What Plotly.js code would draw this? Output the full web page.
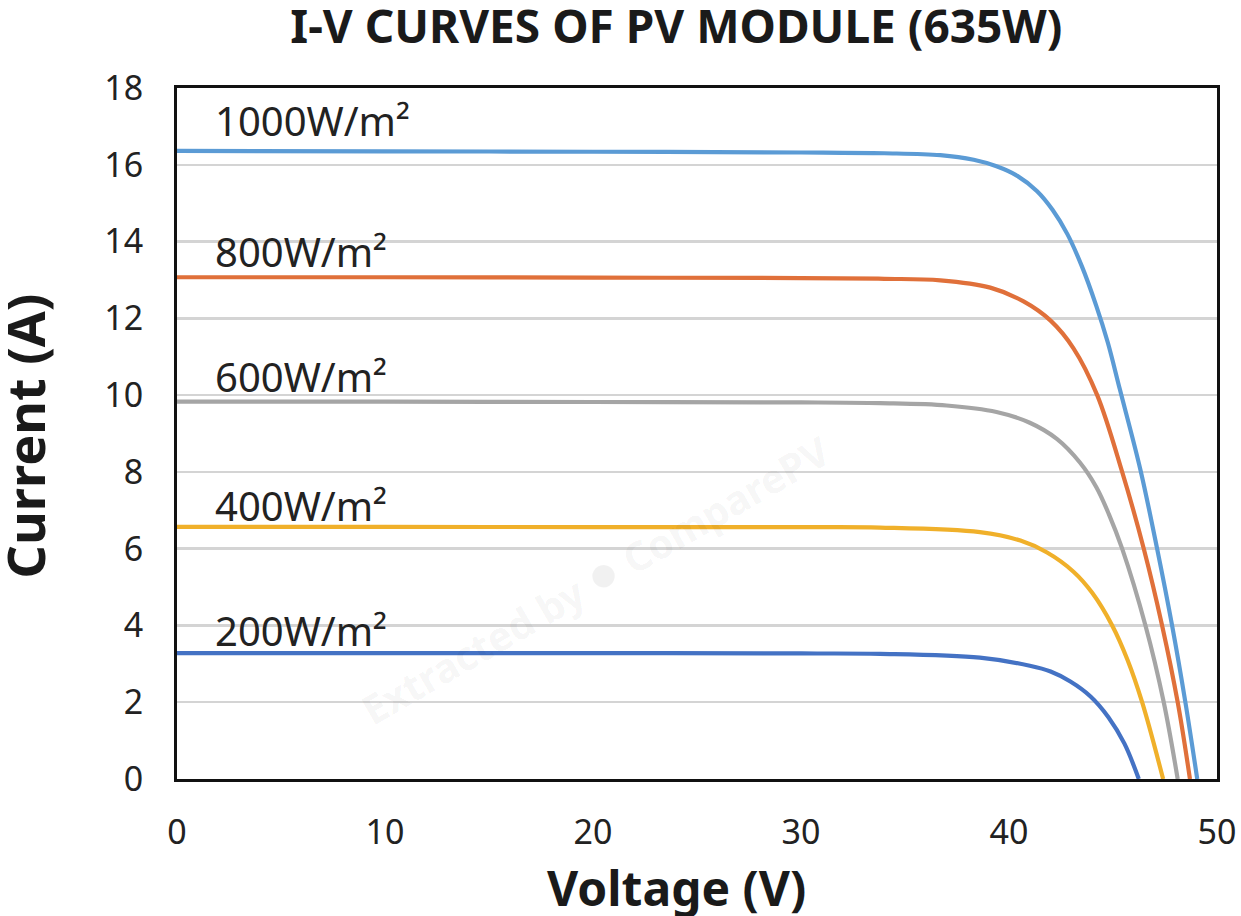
<!DOCTYPE html>
<html>
<head>
<meta charset="utf-8">
<script src="https://cdn.plot.ly/plotly-3.0.1.min.js"></script>
<style>
  html, body { margin: 0; padding: 0; background: #fff; }
  #chart { width: 1241px; height: 916px; }
</style>
</head>
<body>
<div id="chart"></div>
<script>
// I-V curves, one pair of arrays per irradiance level
const irradianceLabels = ['1000W/m²', '800W/m²', '600W/m²', '400W/m²', '200W/m²'];

const voltage1000 = [0, 10, 20, 30, 34, 36.7, 38.3, 39.4, 40.4, 41.35, 42.1, 42.8, 43.5, 44.2, 44.75, 45.33, 46.32, 47.12, 47.84, 48.48, 49.05];
const current1000 = [16.36, 16.35, 16.34, 16.32, 16.3, 16.25, 16.13, 15.96, 15.71, 15.31, 14.82, 14.2, 13.36, 12.32, 11.37, 10.15, 8.05, 6.0, 4.0, 2.0, 0];

const voltage800 = [0, 10, 20, 30, 34, 36.7, 39.1, 40.7, 42.0, 43.1, 44.24, 45.44, 46.48, 47.36, 48.11, 48.7];
const current800 = [13.07, 13.07, 13.06, 13.05, 13.03, 12.99, 12.8, 12.44, 11.94, 11.22, 10.0, 8.0, 6.0, 4.0, 2.0, 0];

const voltage600 = [0, 10, 20, 30, 33.8, 37.0, 39.4, 41.0, 42.3, 43.4, 44.2, 44.8, 45.44, 46.56, 47.44, 48.11];
const current600 = [9.83, 9.83, 9.82, 9.81, 9.79, 9.73, 9.56, 9.28, 8.86, 8.25, 7.6, 6.9, 6.0, 4.0, 2.0, 0];

const voltage400 = [0, 10, 20, 30, 33.8, 38.6, 40.55, 41.83, 43.1, 44.0, 44.96, 45.7, 46.4, 47.41];
const current400 = [6.57, 6.57, 6.56, 6.56, 6.55, 6.43, 6.21, 5.9, 5.4, 4.85, 4.0, 3.1, 2.0, 0];

const voltage200 = [0, 10, 20, 30, 33.8, 38.6, 41.0, 42.0, 42.95, 43.92, 44.78, 45.55, 46.24];
const current200 = [3.28, 3.28, 3.28, 3.27, 3.26, 3.16, 2.95, 2.8, 2.54, 2.15, 1.61, 0.92, 0];

const voltageTicks = [0, 10, 20, 30, 40, 50];
const currentTicks = [0, 2, 4, 6, 8, 10, 12, 14, 16, 18];

// styling
const lineColors = ['#5b9bd5', '#e0703a', '#a5a5a5', '#f0b02a', '#4472c4'];
const labelLift = [0.8, 0.68, 0.66, 0.55, 0.6];

const series = [
  [voltage1000, current1000],
  [voltage800, current800],
  [voltage600, current600],
  [voltage400, current400],
  [voltage200, current200]
];

const traces = series.map(([v, i], k) => ({
  x: v,
  y: i,
  type: 'scatter',
  mode: 'lines',
  name: irradianceLabels[k],
  line: {color: lineColors[k], width: 4.2, shape: 'spline', smoothing: 1},
  hoverinfo: 'x+y+name'
}));

const labelFont = {family: 'Noto Sans, sans-serif', size: 40, color: '#222'};
const axisTitleFont = {family: 'Noto Sans, sans-serif', size: 48, color: '#1a1a1a', weight: 'bold'};

const annotations = series.map(([v, i], k) => ({
  x: 1.75, y: i[0] + labelLift[k], xref: 'x', yref: 'y',
  text: irradianceLabels[k], showarrow: false,
  xanchor: 'left', yanchor: 'middle', font: labelFont
}));

annotations.push(
  {
    x: (676 - 177) / 1040, y: -0.1565, xref: 'paper', yref: 'paper',
    text: 'Voltage (V)', showarrow: false, xanchor: 'center', yanchor: 'middle',
    font: axisTitleFont
  },
  {
    x: -0.147, y: 0.496, xref: 'paper', yref: 'paper',
    text: 'Current (A)', showarrow: false, textangle: -90,
    xanchor: 'center', yanchor: 'middle',
    font: Object.assign({}, axisTitleFont, {size: 52})
  },
  {
    x: 20.0, y: 5.3, xref: 'x', yref: 'y',
    text: 'Extracted by <span style="font-size:52px">●</span> ComparePV', showarrow: false, textangle: -30,
    font: {family: 'Noto Sans, sans-serif', size: 40, color: 'rgba(0,0,0,0.055)', weight: 'bold'}
  }
);

const layout = {
  width: 1241,
  height: 916,
  margin: {l: 177, r: 24, t: 88, b: 137},
  paper_bgcolor: '#fff',
  plot_bgcolor: '#fff',
  showlegend: false,
  title: {
    text: 'I-V CURVES OF PV MODULE (635W)',
    x: 0.545, xref: 'container', xanchor: 'center',
    y: 0.9705, yref: 'container', yanchor: 'middle',
    font: {family: 'Noto Sans, sans-serif', size: 46, color: '#1a1a1a', weight: 'bold'}
  },
  xaxis: {
    range: [0, 50],
    tickvals: voltageTicks,
    showgrid: false,
    zeroline: false,
    showline: true, mirror: true, linecolor: '#111', linewidth: 3,
    ticks: '',
    ticklabelstandoff: 21,
    tickfont: {family: 'Noto Sans, sans-serif', size: 34, color: '#222'}
  },
  yaxis: {
    range: [0, 18],
    tickvals: currentTicks,
    showgrid: true, gridcolor: '#d4d4d4', gridwidth: 2.5,
    zeroline: false,
    showline: true, mirror: true, linecolor: '#111', linewidth: 3,
    ticks: '',
    ticklabelstandoff: 24,
    tickfont: {family: 'Noto Sans, sans-serif', size: 34, color: '#222'}
  },
  annotations: annotations
};

Plotly.newPlot('chart', traces, layout, {displayModeBar: false, staticPlot: true});
</script>
</body>
</html>
